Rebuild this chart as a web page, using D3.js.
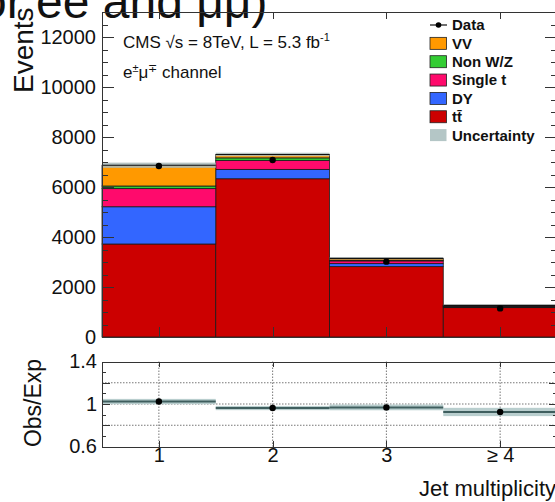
<!DOCTYPE html>
<html><head><meta charset="utf-8">
<script src="https://cdn.jsdelivr.net/npm/d3@7"></script>
<style>
body{margin:0;background:#fff}
svg{display:block}
text{font-family:"Liberation Sans",Arial,Helvetica,sans-serif;fill:#111}
.axis path,.axis line{stroke:#333;stroke-width:1;shape-rendering:crispEdges}
</style>
</head><body><svg id="c" width="555" height="502"></svg>
<script>
// Jet multiplicity categories
const binLabels = ["1", "2", "3", "≥ 4"];
const binCenters = [1, 2, 3, 4];

// Expected yields per process (events)
const ttbar     = [3720, 6330, 2815, 1175];
const dy        = [1490,  375,  120,   30];
const singleTop = [ 725,  360,  110,   35];
const nonWZ     = [ 105,  100,   30,   10];
const diboson   = [ 830,  135,   70,   15];
const mcUnc     = [ 105,   70,   40,   25];

// Observed events
const dataCounts = [6840, 7080, 3015, 1145];

// Observed / expected
const ratioVals = [1.023, 0.962, 0.968, 0.925];
const ratioUnc  = [0.025, 0.020, 0.027, 0.039];

// Axis ticks
const mainTicks = [0, 2000, 4000, 6000, 8000, 10000, 12000];
const ratioMajor = [0.6, 0.8, 1.0, 1.2, 1.4];
const ratioLabels = {"0.6": "0.6", "1": "1", "1.4": "1.4"};

const processes = [
  {key: "tt", label: "tt\u0304", values: ttbar, color: "#cc0000"},
  {key: "dy", label: "DY", values: dy, color: "#3366ff"},
  {key: "st", label: "Single t", values: singleTop, color: "#ff0a6c"},
  {key: "nwz", label: "Non W/Z", values: nonWZ, color: "#33cc33"},
  {key: "vv", label: "VV", values: diboson, color: "#ff9900"}
];

const rows = binCenters.map((c, i) => {
  const r = {bin: c};
  processes.forEach(p => r[p.key] = p.values[i]);
  return r;
});
const stack = d3.stack().keys(processes.map(p => p.key))(rows);
const totals = rows.map(r => processes.reduce((s, p) => s + r[p.key], 0));

const svg = d3.select("#c");

const x = d3.scaleLinear().domain([0.5, 4.5]).range([102, 557]);
const y = d3.scaleLinear().domain([0, 13000]).range([337, 12]);
const yr = d3.scaleLinear().domain([0.6, 1.4]).range([446.5, 361.5]);

// Heading fragment above the frame
svg.append("text").attr("x", -20).attr("y", 18)
  .style("font-size", "48px").text("or ee and μμ)");

// ---------- main panel ----------
const main = svg.append("g");

stack.forEach((layer, li) => {
  main.append("g").selectAll("rect").data(layer).join("rect")
    .attr("x", d => x(d.data.bin - 0.5))
    .attr("width", d => x(d.data.bin + 0.5) - x(d.data.bin - 0.5))
    .attr("y", d => y(d[1]))
    .attr("height", d => y(d[0]) - y(d[1]))
    .attr("fill", processes[li].color)
    .attr("stroke", "#1a1a1a").attr("stroke-width", 0.8);
});

// MC uncertainty band and total outline
main.append("g").selectAll("rect").data(binCenters).join("rect")
  .attr("x", c => x(c - 0.5))
  .attr("width", c => x(c + 0.5) - x(c - 0.5))
  .attr("y", (c, i) => y(totals[i] + mcUnc[i]))
  .attr("height", (c, i) => y(totals[i] - mcUnc[i]) - y(totals[i] + mcUnc[i]))
  .attr("fill", "#a9baba").attr("opacity", 0.85);
main.append("g").selectAll("line").data(binCenters).join("line")
  .attr("x1", c => x(c - 0.5)).attr("x2", c => x(c + 0.5))
  .attr("y1", (c, i) => y(totals[i])).attr("y2", (c, i) => y(totals[i]))
  .attr("stroke", "#111").attr("stroke-width", 1.2);

// Data points
main.append("g").selectAll("circle").data(binCenters).join("circle")
  .attr("cx", c => x(c)).attr("cy", (c, i) => y(dataCounts[i]))
  .attr("r", 3.2).attr("fill", "#000");

// Axes of the main panel
const fontTick = "20px";
const leftAx = svg.append("g").attr("class", "axis").attr("transform", "translate(102,0)")
  .call(d3.axisLeft(y).tickValues(mainTicks).tickSize(-12).tickSizeOuter(0).tickPadding(6).tickFormat(d3.format("d")));
leftAx.selectAll("text").style("font-size", fontTick);
svg.append("g").attr("class", "axis").attr("transform", "translate(102,0)")
  .call(d3.axisLeft(y).tickValues(d3.range(0, 13001, 500)).tickSize(-6).tickSizeOuter(0).tickFormat(""))
  .select(".domain").remove();
svg.append("g").attr("class", "axis").attr("transform", "translate(557,0)")
  .call(d3.axisRight(y).tickValues(mainTicks).tickSize(-12).tickSizeOuter(0).tickFormat(""));
svg.append("g").attr("class", "axis").attr("transform", "translate(557,0)")
  .call(d3.axisRight(y).tickValues(d3.range(0, 13001, 500)).tickSize(-6).tickSizeOuter(0).tickFormat(""))
  .select(".domain").remove();
svg.append("g").attr("class", "axis").attr("transform", "translate(0,12)")
  .call(d3.axisTop(x).tickValues(binCenters).tickSize(-7).tickSizeOuter(0).tickFormat(""));
svg.append("g").attr("class", "axis").attr("transform", "translate(0,337)")
  .call(d3.axisBottom(x).tickValues(binCenters).tickSize(-10).tickSizeOuter(0).tickFormat(""));

svg.append("text").attr("transform", "translate(33,93) rotate(-90)")
  .style("font-size", "28px").text("Events");

// Labels inside the frame
const info = svg.append("text").attr("x", 123).attr("y", 48).style("font-size", "17px");
info.append("tspan").text("CMS √s = 8TeV, L = 5.3 fb");
info.append("tspan").attr("dy", -7).style("font-size", "11px").text("-1");
const chan = svg.append("text").attr("x", 123).attr("y", 78).style("font-size", "17px");
chan.append("tspan").text("e");
chan.append("tspan").attr("dy", -6).style("font-size", "11px").text("±");
chan.append("tspan").attr("dy", 6).text("μ");
chan.append("tspan").attr("dy", -6).style("font-size", "11px").text("∓");
chan.append("tspan").attr("dy", 6).text(" channel");

// Legend
const lg = svg.append("g").style("font-weight", "bold");
const lgX = 430, lgY0 = 25, lgStep = 18.35;
lg.append("line").attr("x1", lgX).attr("x2", lgX + 17).attr("y1", lgY0).attr("y2", lgY0)
  .attr("stroke", "#111").attr("stroke-width", 1.2);
lg.append("circle").attr("cx", lgX + 8.5).attr("cy", lgY0).attr("r", 2.8).attr("fill", "#000");
const legendItems = [
  {label: "VV", color: "#ff9900"},
  {label: "Non W/Z", color: "#33cc33"},
  {label: "Single t", color: "#ff0a6c"},
  {label: "DY", color: "#3366ff"},
  {label: "tt\u0304", color: "#cc0000"},
  {label: "Uncertainty", color: "#b4c6c6"}
];
lg.append("text").attr("x", lgX + 22).attr("y", lgY0).attr("dy", "0.36em")
  .style("font-size", "15px").text("Data");
legendItems.forEach((it, i) => {
  const cy = lgY0 + lgStep * (i + 1);
  lg.append("rect").attr("x", lgX).attr("y", cy - 6).attr("width", 16.5).attr("height", 12)
    .attr("fill", it.color).attr("stroke", it.label === "Uncertainty" ? "none" : "#222").attr("stroke-width", 0.8);
  lg.append("text").attr("x", lgX + 22).attr("y", cy).attr("dy", "0.36em")
    .style("font-size", "15px").text(it.label);
});

// ---------- ratio panel ----------
const rp = svg.append("g");
const grid = rp.append("g").attr("stroke", "#777").attr("stroke-width", 1).attr("stroke-dasharray", "1.5,1.5");
[0.8, 1.0, 1.2].forEach(v => grid.append("line").attr("x1", 102).attr("x2", 557).attr("y1", yr(v)).attr("y2", yr(v)));
binCenters.forEach(c => grid.append("line").attr("x1", x(c)).attr("x2", x(c)).attr("y1", yr(1.4)).attr("y2", yr(0.6)));

rp.append("g").selectAll("rect").data(binCenters).join("rect")
  .attr("x", c => x(c - 0.5))
  .attr("width", c => x(c + 0.5) - x(c - 0.5))
  .attr("y", (c, i) => yr(ratioVals[i] + ratioUnc[i]))
  .attr("height", (c, i) => yr(ratioVals[i] - ratioUnc[i]) - yr(ratioVals[i] + ratioUnc[i]))
  .attr("fill", "#b9cece");
rp.append("g").selectAll("line").data(binCenters).join("line")
  .attr("x1", c => x(c - 0.5)).attr("x2", c => x(c + 0.5))
  .attr("y1", (c, i) => yr(ratioVals[i])).attr("y2", (c, i) => yr(ratioVals[i]))
  .attr("stroke", "#3f5e5e").attr("stroke-width", 2);
rp.append("g").selectAll("circle").data(binCenters).join("circle")
  .attr("cx", c => x(c)).attr("cy", (c, i) => yr(ratioVals[i]))
  .attr("r", 3.2).attr("fill", "#000");

const rLeft = svg.append("g").attr("class", "axis").attr("transform", "translate(102,0)")
  .call(d3.axisLeft(yr).tickValues(ratioMajor).tickSize(-8).tickSizeOuter(0).tickPadding(5)
    .tickFormat(v => ratioLabels[String(+v.toFixed(1))] || ""));
rLeft.selectAll("text").style("font-size", fontTick);
svg.append("g").attr("class", "axis").attr("transform", "translate(102,0)")
  .call(d3.axisLeft(yr).tickValues(d3.range(0.6, 1.41, 0.1)).tickSize(-4).tickSizeOuter(0).tickFormat(""))
  .select(".domain").remove();
svg.append("g").attr("class", "axis").attr("transform", "translate(557,0)")
  .call(d3.axisRight(yr).tickValues(ratioMajor).tickSize(-8).tickSizeOuter(0).tickFormat(""));
svg.append("g").attr("class", "axis").attr("transform", "translate(557,0)")
  .call(d3.axisRight(yr).tickValues(d3.range(0.6, 1.41, 0.1)).tickSize(-4).tickSizeOuter(0).tickFormat(""))
  .select(".domain").remove();
svg.append("g").attr("class", "axis").attr("transform", "translate(0,361.5)")
  .call(d3.axisTop(x).tickValues(binCenters).tickSize(-5).tickSizeOuter(0).tickFormat(""));
const rBottom = svg.append("g").attr("class", "axis").attr("transform", "translate(0,446.5)")
  .call(d3.axisBottom(x).tickValues(binCenters).tickSize(-6).tickSizeOuter(0).tickPadding(1)
    .tickFormat((d, i) => binLabels[i]));
rBottom.selectAll("text").style("font-size", fontTick);

svg.append("text").attr("transform", "translate(41,403) rotate(-90)")
  .attr("text-anchor", "middle").style("font-size", "23px").text("Obs/Exp");

svg.append("text").attr("x", 556).attr("y", 496).attr("text-anchor", "end")
  .style("font-size", "22px").text("Jet multiplicity");
</script>
</body></html>
